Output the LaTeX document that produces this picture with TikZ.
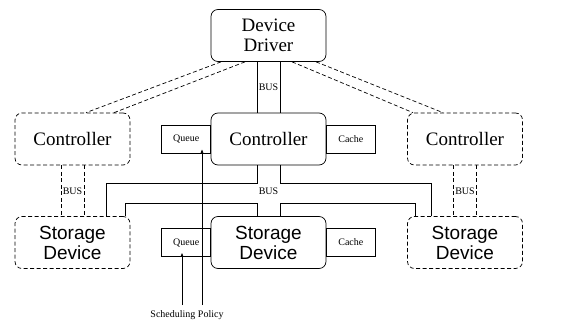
\documentclass[tikz,border=0pt]{standalone}
\usepackage{fontspec}
\setmainfont{Liberation Serif}
\newfontfamily\serifam{Liberation Serif}
\newfontfamily\sansfam{Liberation Sans}
\usetikzlibrary{arrows.meta,positioning,calc}

\begin{document}
\begin{tikzpicture}[x=1pt,y=-1pt,>={Latex[length=4pt,width=3pt]},line width=0.7pt]
    \tikzset{
        unitBox/.style={draw,rounded corners=7pt,minimum width=115pt,minimum height=52pt,inner sep=0pt,align=center,font=\serifam\fontsize{19}{20}\selectfont},
        otherBox/.style={unitBox,dash pattern=on 4pt off 2.5pt},
        storeText/.style={font=\sansfam\fontsize{19}{20}\selectfont},
        sideBox/.style={draw,outer sep=0pt,minimum width=49pt,minimum height=28pt,inner sep=0pt,font=\serifam\fontsize{10}{12}\selectfont},
        busLabel/.style={font=\serifam\fontsize{10}{12}\selectfont,inner sep=1pt},
        busDash/.style={dash pattern=on 4pt off 2.5pt}
    }
    \useasboundingbox (0,0) rectangle (581,324);
    % top
    \node[unitBox] (driver) at (268.5,35.5) {Device\\Driver};
    % controllers
    \node[unitBox] (ctrl) at (268.5,139) {Controller};
    \node[otherBox] (lctrl) at (72.5,139) {Controller};
    \node[otherBox] (rctrl) at (465,139) {Controller};
    \node[sideBox,left=0pt of ctrl] (cqueue) {Queue};
    \node[sideBox,right=0pt of ctrl] (ccache) {Cache};
    % storage devices
    \node[unitBox,storeText] (store) at (268.5,242.5) {Storage\\Device};
    \node[otherBox,storeText] (lstore) at (72.5,242.5) {Storage\\Device};
    \node[otherBox,storeText] (rstore) at (465,242.5) {Storage\\Device};
    \node[sideBox,left=0pt of store] (squeue) {Queue};
    \node[sideBox,right=0pt of store] (scache) {Cache};
    % driver to controllers
    \draw ([xshift=-11.5pt]driver.south) -- ([xshift=-11.5pt]ctrl.north);
    \draw ([xshift=11.5pt]driver.south) -- ([xshift=11.5pt]ctrl.north);
    \node[busLabel] (bustop) at ($(driver.south)!0.5!(ctrl.north)$) {BUS};
    \draw[busDash] ([xshift=-47.5pt]driver.south) -- ([xshift=13.5pt]lctrl.north);
    \draw[busDash] ([xshift=-23.5pt]driver.south) -- ([xshift=41.5pt]lctrl.north);
    \draw[busDash] ([xshift=23.5pt]driver.south) -- ([xshift=-52pt]rctrl.north);
    \draw[busDash] ([xshift=47.5pt]driver.south) -- ([xshift=-22pt]rctrl.north);
    % controllers to storage
    \draw ([xshift=-11.5pt]ctrl.south) -- ++(0,18) -| ([xshift=33.5pt]lstore.north);
    \draw ([xshift=11.5pt]ctrl.south) -- ++(0,18) -| ([xshift=-34pt]rstore.north);
    \draw ([xshift=-11.5pt]store.north) -- ++(0,-13) -| ([xshift=52.5pt]lstore.north);
    \draw ([xshift=11.5pt]store.north) -- ++(0,-13) -| ([xshift=-50pt]rstore.north);
    \node[busLabel] (busmid) at ($(ctrl.south)!0.5!(store.north)$) {BUS};
    \draw[busDash] ([xshift=-11.5pt]lctrl.south) -- ([xshift=-11.5pt]lstore.north);
    \draw[busDash] ([xshift=11.5pt]lctrl.south) -- ([xshift=11.5pt]lstore.north);
    \node[busLabel] (busleft) at ($(lctrl.south)!0.5!(lstore.north)$) {BUS};
    \draw[busDash] ([xshift=-11.5pt]rctrl.south) -- ([xshift=-11.5pt]rstore.north);
    \draw[busDash] ([xshift=11.5pt]rctrl.south) -- ([xshift=11.5pt]rstore.north);
    \node[busLabel] (busright) at ($(rctrl.south)!0.5!(rstore.north)$) {BUS};
    % scheduling policy
    \node[busLabel] (sched) at (187,315) {Scheduling Policy};
    \draw[->] ([xshift=-5pt,yshift=4pt]sched.north) -- ([xshift=-5pt,yshift=4pt]sched.north |- squeue.south);
    \draw[->] ([xshift=15pt,yshift=4pt]sched.north) -- ([xshift=15pt,yshift=4pt]sched.north |- cqueue.south);
\end{tikzpicture}
\end{document}
